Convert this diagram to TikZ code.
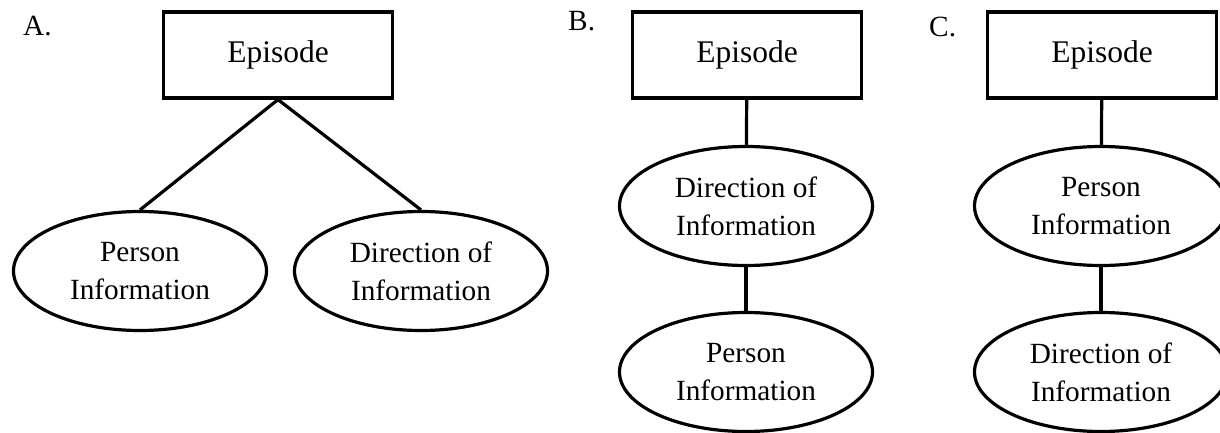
\documentclass[tikz,border=0pt]{standalone}
\usepackage{fontspec}
\setmainfont{Liberation Serif}
\usetikzlibrary{shapes.geometric}

\begin{document}
\begin{tikzpicture}[x=1pt,y=-1pt,
  box/.style={draw, line width=3.2pt, minimum width=229pt, minimum height=86pt, inner sep=0pt, font=\fontsize{31.5}{38}\selectfont},
  facet/.style={draw, ellipse, line width=3.2pt, minimum width=253pt, minimum height=119pt, inner sep=0pt, align=center, font=\fontsize{29.3}{37.7}\selectfont},
  link/.style={line width=3.2pt},
  tag/.style={anchor=base west, inner sep=0pt, font=\fontsize{29.3}{37.7}\selectfont}]
  \useasboundingbox (0,0) rectangle (1220,433);
  % panneau A
  \node[tag] (LA) at (23,36) {A.};
  \node[box] (EA) at (278,55) {Episode};
  \node[facet] (PA) at (140,271) {Person\\Information};
  \node[facet] (DA) at (421,271) {Direction of\\Information};
  \draw[link] (EA.south) -- (PA.north);
  \draw[link] (EA.south) -- (DA.north);
  % panneau B
  \node[tag] (LB) at (568,31) {B.};
  \node[box] (EB) at (747,55) {Episode};
  \node[facet] (DB) at (746,206) {Direction of\\Information};
  \node[facet] (PB) at (746,372) {Person\\Information};
  \draw[link] (EB) -- (DB);
  \draw[link] (DB) -- (PB);
  % panneau C
  \node[tag] (LC) at (929,37) {C.};
  \node[box] (EC) at (1102,55) {Episode};
  \node[facet] (PC) at (1101,206) {Person\\Information};
  \node[facet] (DC) at (1101,372) {Direction of\\Information};
  \draw[link] (EC) -- (PC);
  \draw[link] (PC) -- (DC);
\end{tikzpicture}
\end{document}
